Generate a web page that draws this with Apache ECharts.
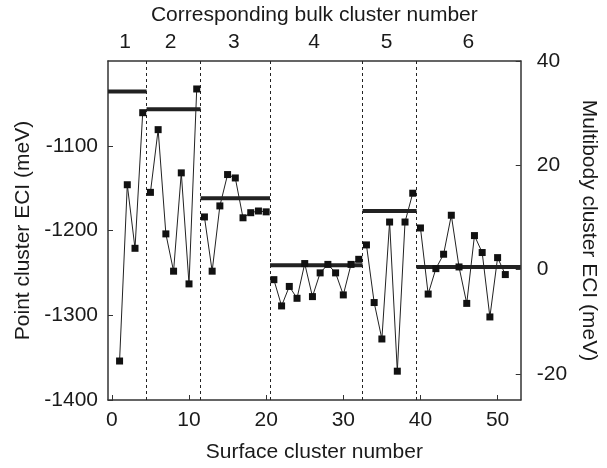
<!DOCTYPE html>
<html><head><meta charset="utf-8">
<script src="https://cdn.jsdelivr.net/npm/echarts@6/dist/echarts.min.js"></script>
<style>html,body{margin:0;padding:0;background:#fff}#c{width:607px;height:468px}</style>
</head><body><div id="c"></div>
<script>
// Surface cluster ECIs grouped by corresponding bulk cluster (values in left-axis units, meV)
const groupStart = [1, 5, 12, 21, 33, 40];
const group1 = [-1354, -1146, -1221, -1061];
const group2 = [-1155, -1081, -1204, -1248, -1132, -1263, -1033];
const group3 = [-1184, -1248, -1171, -1134, -1138, -1185, -1179, -1177, -1178];
const group4 = [-1258, -1289, -1266, -1280, -1239, -1278, -1250, -1240, -1250, -1276, -1240, -1234];
const group5 = [-1217, -1285, -1328, -1190, -1366, -1190, -1156];
const group6 = [-1197, -1275, -1245, -1228, -1182, -1243, -1286, -1206, -1226, -1302, -1232, -1252];
// Bulk cluster values (thick horizontal bars) and group boundaries
const boundaries = [-0.5, 4.5, 11.5, 20.5, 32.5, 39.5, 53];
const bulkValues = [-1036, -1057, -1162, -1241, -1177, -1243];
// Tick labels
const bulkLabels = ['1', '2', '3', '4', '5', '6'];
const bulkLabelPos = [1.7, 7.6, 15.8, 26.2, 35.6, 46.2];
const xTicks = [0, 10, 20, 30, 40, 50];
const leftTicks = [-1400, -1300, -1200, -1100];
const rightTicks = [-20, 0, 20, 40];

const groups = [group1, group2, group3, group4, group5, group6];
const FONT = "'Liberation Sans', Arial, sans-serif";
const TXT = '#1a1a1a';
const AX = '#333';
const FS = 21;

const series = [];
groups.forEach((g, gi) => {
  series.push({
    type: 'line',
    xAxisIndex: 0, yAxisIndex: 0,
    data: g.map((v, i) => [groupStart[gi] + i, v]),
    symbol: 'rect', symbolSize: 7,
    itemStyle: { color: '#111' },
    lineStyle: { color: '#222', width: 1 },
    z: 5,
    silent: true
  });
});
bulkValues.forEach((v, i) => {
  series.push({
    type: 'line',
    xAxisIndex: 0, yAxisIndex: 0,
    data: [[boundaries[i], v], [boundaries[i + 1], v]],
    symbol: 'none',
    lineStyle: { color: '#222', width: 4 },
    z: 4,
    silent: true
  });
});
series.push({
  type: 'line', xAxisIndex: 0, yAxisIndex: 0, data: [], symbol: 'none',
  markLine: {
    silent: true, symbol: 'none', animation: false,
    label: { show: false },
    lineStyle: { type: [3, 3], color: '#222', width: 1 },
    data: boundaries.slice(1, -1).map(x => ({ xAxis: x }))
  }
});

const plain = v => String(v);

const chart = echarts.init(document.getElementById('c'));
chart.setOption({
  animation: false,
  backgroundColor: '#fff',
  textStyle: { fontFamily: FONT },
  grid: { left: 108, right: 75, top: 61, bottom: 68 },
  xAxis: [
    {
      type: 'value', position: 'bottom', min: -0.5, max: 53,
      name: 'Surface cluster number', nameLocation: 'middle', nameGap: 42,
      nameTextStyle: { fontSize: FS, color: TXT, fontFamily: FONT },
      axisLine: { show: true, onZero: false, lineStyle: { color: AX, width: 1.5 } },
      axisTick: { show: true, inside: true, length: 5, customValues: xTicks, lineStyle: { color: AX } },
      axisLabel: { customValues: xTicks, fontSize: FS, color: TXT, margin: 10, fontFamily: FONT, formatter: plain },
      splitLine: { show: false }
    },
    {
      type: 'value', position: 'top', min: -0.5, max: 53,
      name: 'Corresponding bulk cluster number', nameLocation: 'middle', nameGap: 35,
      nameTextStyle: { fontSize: FS, color: TXT, fontFamily: FONT },
      axisLine: { show: true, onZero: false, lineStyle: { color: AX, width: 1.5 } },
      axisTick: { show: false },
      axisLabel: {
        customValues: bulkLabelPos, fontSize: FS, color: TXT, margin: 8, fontFamily: FONT,
        formatter: v => {
          let best = 0;
          bulkLabelPos.forEach((p, i) => { if (Math.abs(p - v) < Math.abs(bulkLabelPos[best] - v)) best = i; });
          return bulkLabels[best];
        }
      },
      splitLine: { show: false }
    }
  ],
  yAxis: [
    {
      type: 'value', position: 'left', min: -1400, max: -1000,
      name: 'Point cluster ECI (meV)', nameLocation: 'middle', nameGap: 74,
      nameTextStyle: { fontSize: FS, color: TXT, fontFamily: FONT },
      axisLine: { show: true, onZero: false, lineStyle: { color: AX, width: 1.5 } },
      axisTick: { show: true, inside: true, length: 5, customValues: leftTicks, lineStyle: { color: AX } },
      axisLabel: { customValues: leftTicks, fontSize: FS, color: TXT, margin: 10, fontFamily: FONT, formatter: plain },
      splitLine: { show: false }
    },
    {
      type: 'value', position: 'right', min: -25, max: 40,
      name: 'Multibody cluster ECI (meV)', nameLocation: 'middle', nameGap: 57, nameRotate: -90,
      nameTextStyle: { fontSize: FS, color: TXT, fontFamily: FONT },
      axisLine: { show: true, onZero: false, lineStyle: { color: AX, width: 1.5 } },
      axisTick: { show: true, inside: true, length: 5, customValues: rightTicks, lineStyle: { color: AX } },
      axisLabel: { customValues: rightTicks, fontSize: FS, color: TXT, margin: 16, fontFamily: FONT, formatter: plain },
      splitLine: { show: false }
    }
  ],
  series: series
});
</script>
</body></html>
